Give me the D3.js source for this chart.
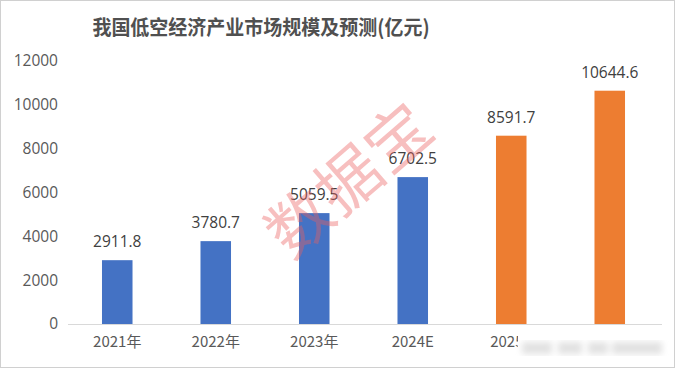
<!DOCTYPE html>
<html>
<head>
<meta charset="utf-8">
<script src="https://cdn.jsdelivr.net/npm/d3@7"></script>
<style>
  body { margin: 0; background: #fff; }
  svg { display: block; }
  text { font-family: "Noto Sans CJK SC", "Open Sans", sans-serif; }
</style>
</head>
<body>
<div id="chart"></div>
<script>
// Données
const categories = ["2021年", "2022年", "2023年", "2024E", "2025E", "2026E"];
const values = [2911.8, 3780.7, 5059.5, 6702.5, 8591.7, 10644.6];
const forecast = [false, false, false, false, true, true];
const yTicks = [0, 2000, 4000, 6000, 8000, 10000, 12000];

const W = 675, H = 368;
const plot = { left: 68, right: 659, top: 61, bottom: 324 };

const svg = d3.select("#chart").append("svg")
    .attr("width", W)
    .attr("height", H);

// Cadre
svg.append("rect")
    .attr("x", 0.5).attr("y", 0.5)
    .attr("width", W - 1).attr("height", H - 1)
    .attr("fill", "#fff")
    .attr("stroke", "#d0d0d0");

// Échelles
const x = d3.scaleBand()
    .domain(categories)
    .range([plot.left, plot.right])
    .paddingInner(0.69)
    .paddingOuter(0.345);

const y = d3.scaleLinear()
    .domain([0, 12000])
    .range([plot.bottom, plot.top]);

// Titre
svg.append("text")
    .attr("x", 261)
    .attr("y", 35)
    .attr("text-anchor", "middle")
    .attr("font-size", "19px")
    .attr("font-weight", "bold")
    .attr("fill", "#505050")
    .attr("transform", "translate(261,35) scale(1,1.08) translate(-261,-35)")
    .text("我国低空经济产业市场规模及预测(亿元)");

// Axe Y (étiquettes seulement)
const yAxis = svg.append("g")
    .attr("transform", `translate(${plot.left - 10},0)`)
    .call(d3.axisLeft(y).tickValues(yTicks).tickSize(0).tickPadding(0).tickFormat(d3.format("d")));
yAxis.select(".domain").remove();
yAxis.selectAll("text")
    .attr("font-size", "15.5px")
    .attr("fill", "#595959")
    .style("font-family", "'Open Sans', sans-serif");

// Axe X
const xAxis = svg.append("g")
    .attr("transform", `translate(0,${plot.bottom + 0.5})`)
    .call(d3.axisBottom(x).tickSize(0).tickPadding(12));
xAxis.select(".domain")
    .attr("stroke", "#d9d9d9")
    .attr("d", `M${plot.left},0H${plot.right + 3}`);
xAxis.selectAll("text")
    .attr("font-size", "15px")
    .attr("fill", "#595959");

// Barres
svg.append("g")
    .selectAll("rect")
    .data(categories)
    .join("rect")
    .attr("x", d => x(d))
    .attr("width", x.bandwidth())
    .attr("y", (d, i) => y(values[i]))
    .attr("height", (d, i) => y(0) - y(values[i]))
    .attr("fill", (d, i) => forecast[i] ? "#ED7D31" : "#4472C4");

// Valeurs
svg.append("g")
    .selectAll("text")
    .data(categories)
    .join("text")
    .attr("x", d => x(d) + x.bandwidth() / 2)
    .attr("y", (d, i) => y(values[i]) - 13)
    .attr("text-anchor", "middle")
    .attr("font-size", "15.5px")
    .attr("fill", "#404040")
    .style("font-family", "'Open Sans', sans-serif")
    .text((d, i) => values[i].toFixed(1));

// Filigrane "数据宝"
svg.append("text")
    .attr("transform", "translate(346,176) rotate(-41)")
    .attr("text-anchor", "middle")
    .attr("dominant-baseline", "central")
    .attr("font-size", "64px")
    .attr("font-weight", "normal")
    .attr("fill", "rgba(235,95,95,0.4)")
    .attr("letter-spacing", "1px")
    .text("数据宝");

// Filigrane flou en bas à droite
const blur = svg.append("defs").append("filter").attr("id", "blur");
blur.append("feGaussianBlur").attr("stdDeviation", 3);
svg.append("rect")
    .attr("x", 518).attr("y", 336)
    .attr("width", 151).attr("height", 26)
    .attr("fill", "#fff");
svg.append("g").attr("filter", "url(#blur)")
    .selectAll("rect")
    .data([[522, 30], [558, 24], [588, 20], [612, 50]])
    .join("rect")
    .attr("x", d => d[0]).attr("y", 342)
    .attr("width", d => d[1]).attr("height", 12)
    .attr("fill", "#e2e2e2");
</script>
</body>
</html>
